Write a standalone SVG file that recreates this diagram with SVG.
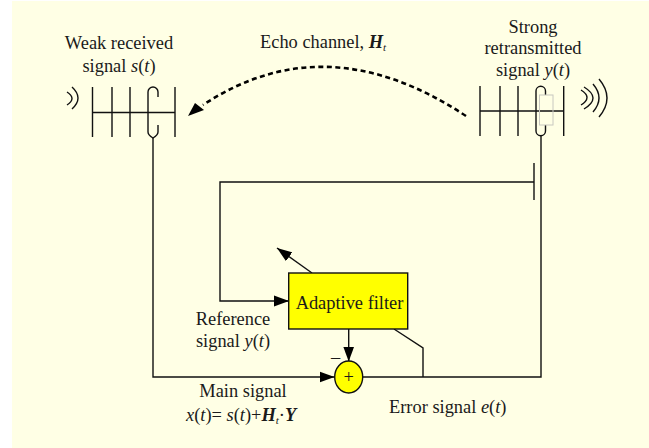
<svg xmlns="http://www.w3.org/2000/svg" width="649" height="448" viewBox="0 0 649 448">
<style>
.t{font-family:"Liberation Serif","Times New Roman",serif;font-size:18.4px;fill:#1a1a1a}
.m{text-anchor:middle}
.l{fill:none;stroke:#111;stroke-width:1.4}
.a{fill:none;stroke:#111;stroke-width:1.4}
.i{font-style:italic}
.b{font-style:italic;font-weight:bold}
.s{font-size:11px}
</style>
<defs>
<marker id="ah" markerUnits="userSpaceOnUse" markerWidth="15" markerHeight="12" refX="15" refY="6" orient="auto"><path d="M0 0.500L15 6L0 11.500Z" fill="#000"/></marker>
</defs>
<rect width="649" height="448" fill="#fff"/>
<rect x="12" y="1" width="637" height="447" fill="#ffffe5"/>
<g id="connectors">
<path class="l" d="M153 138V377H334.500" marker-end="url(#ah)"/>
<path class="l" d="M541 136V377H362.700"/>
<path class="l" d="M534 182H220V301H289" marker-end="url(#ah)"/>
<path class="l" d="M348.700 329V361.500" marker-end="url(#ah)"/>
<path class="l" d="M394 329L423 348V377"/>
<path class="l" d="M312 273L277 248" marker-end="url(#ah)"/>
<path d="M466 116Q326 23.500 203 105" fill="none" stroke="#000" stroke-width="2.6" stroke-dasharray="5 3.500"/>
<path d="M188 116L195 103L204 110Z" fill="#000"/>
</g>
<g id="antenna-left">
<path class="l" d="M92.500 87V137M112 87V137M130 87V137M175 87V137M92.500 112.500H175"/>
<path class="l" d="M158 97V92A5 5 0 0 0 148 92V132Q148 135 153 138Q158 135 158 132V125"/>
<path class="a" d="M67 92Q77 98.500 67 105M72 87Q84 98 72 109"/>
</g>
<g id="antenna-right">
<path class="l" d="M480 86V136M500 86V136M518 86V136M563.700 86V136M480 111H563.700"/>
<path class="l" d="M545.500 95V91A4.750 4.750 0 0 0 536 91V131A4.750 4.750 0 0 0 545.500 131V125"/>
<rect x="539.500" y="95" width="13.500" height="30" fill="none" stroke="#c8c8c0" stroke-width="1"/>
<path class="a" d="M581 90Q593 97.500 581 105M584 87Q602 98 584 109M593 84Q605 98 593 112M599 79Q615 98 599 117"/>
<path class="l" d="M534 163V200"/>
</g>
<g id="adaptive-filter">
<rect x="288.700" y="273" width="119" height="56" fill="#ffff00" stroke="#111" stroke-width="1.4"/>
<text class="t m" x="349.500" y="309">Adaptive filter</text>
</g>
<g id="summer">
<ellipse cx="348.700" cy="377" rx="14" ry="16" fill="#ffff00" stroke="#111" stroke-width="1.4"/>
<text class="t m" x="348.700" y="383">+</text>
<text class="t" x="331" y="362.500">–</text>
</g>
<g id="labels">
<text class="t m" x="119" y="49">Weak received</text>
<text class="t m" x="119" y="72">signal <tspan class="i">s</tspan>(<tspan class="i">t</tspan>)</text>
<text class="t m" x="533" y="33">Strong</text>
<text class="t m" x="533" y="54">retransmitted</text>
<text class="t m" x="533" y="76">signal <tspan class="i">y</tspan>(<tspan class="i">t</tspan>)</text>
<text class="t" x="260" y="48">Echo channel, <tspan class="b">H</tspan><tspan class="i s" dy="3">t</tspan></text>
<text class="t m" x="233" y="325">Reference</text>
<text class="t m" x="233" y="347">signal <tspan class="i">y</tspan>(<tspan class="i">t</tspan>)</text>
<text class="t m" x="243" y="397">Main signal</text>
<text class="t" x="186" y="421"><tspan class="i">x</tspan>(<tspan class="i">t</tspan>)= <tspan class="i">s</tspan>(<tspan class="i">t</tspan>)+<tspan class="b">H</tspan><tspan class="i s" dy="3">t</tspan><tspan dy="-3">·</tspan><tspan class="b">Y</tspan></text>
<text class="t" x="389" y="413">Error signal <tspan class="i">e</tspan>(<tspan class="i">t</tspan>)</text>
</g>
</svg>
